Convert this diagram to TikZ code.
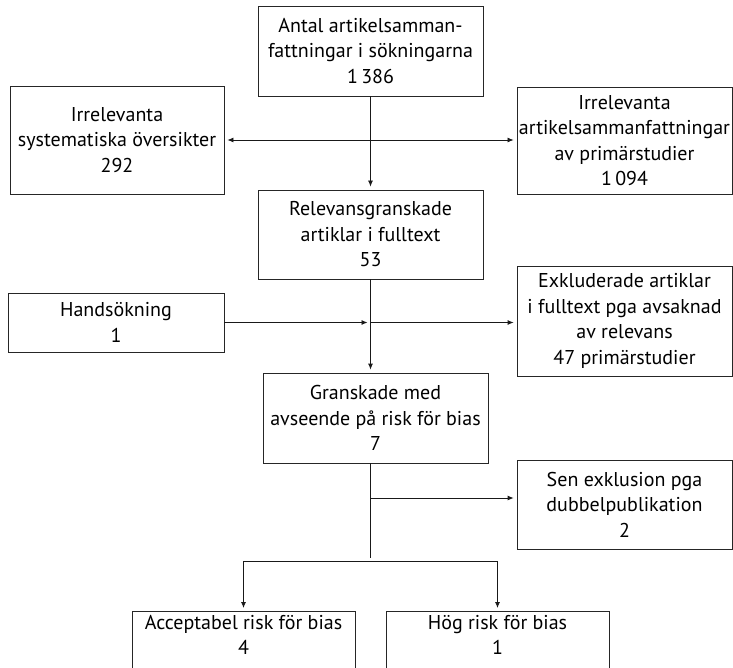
\documentclass[tikz,border=0pt]{standalone}
\usepackage{fontspec}
\setmainfont{PT Sans}
\usetikzlibrary{arrows.meta}

\tikzset{
  flowbox/.style={draw=black!85, line width=0.8pt, align=center, inner sep=2pt,
    font=\fontsize{20}{25.5}\selectfont},
  link/.style={draw=black!90, line width=0.8pt, shorten >=3pt},
  >={Latex[length=6pt,width=5pt]}
}

\begin{document}
\begin{tikzpicture}[x=1pt, y=-1pt]
  \clip (0,0) rectangle (733,668);

  % top row
  \node [flowbox, minimum width=225pt, minimum height=90pt] (antal) at (370.5,51)
    {Antal artikelsamman-\\fattningar i sökningarna\\1\,386};
  \node [flowbox, minimum width=214pt, minimum height=108pt] (irrsys) at (117,140)
    {Irrelevanta\\systematiska översikter\\292};
  \node [flowbox, minimum width=213pt, minimum height=107pt] (irrprim) at (624.5,140.5)
    {Irrelevanta\\artikelsammanfattningar\\av primärstudier\\1\,094};

  % middle
  \node [flowbox, minimum width=225pt, minimum height=89pt] (relev) at (370.5,234.5)
    {Relevansgranskade\\artiklar i fulltext\\53};
  \node [flowbox, minimum width=216pt, minimum height=59pt] (hand) at (116,322.5)
    {Handsökning\\1};
  \node [flowbox, minimum width=215pt, minimum height=110pt] (exkl) at (624.5,321)
    {Exkluderade artiklar\\i fulltext pga avsaknad\\av relevans\\47 primärstudier};
  \node [flowbox, minimum width=225pt, minimum height=90pt] (gransk) at (375.5,418)
    {Granskade med\\avseende på risk för bias\\7};
  \node [flowbox, minimum width=215pt, minimum height=89pt] (sen) at (624.5,504.5)
    {Sen exklusion pga\\dubbelpublikation\\2};

  % bottom row, cut by the page edge
  \node [flowbox, minimum width=223pt, minimum height=80pt, anchor=north] (accept) at (243.5,611)
    {Acceptabel risk för bias\\4\\\strut};
  \node [flowbox, minimum width=223pt, minimum height=80pt, anchor=north] (hog) at (497.5,611)
    {Hög risk för bias\\1\\\strut};

  \coordinate (sentap) at (370,498);
  \coordinate (fork) at (370,561);

  % connectors
  \draw [link, <->, shorten <=3pt] (irrsys.east) -- (irrsys.east -| irrprim.west);
  \draw [link, ->] (antal) -- (relev);
  \draw [link, ->] (hand.east) -- (hand.east -| relev.south);
  \draw [link, ->] (hand.east -| relev.south) -- (hand.east -| exkl.west);
  \draw [link, ->] (relev.south) -- (relev.south |- gransk.north);
  \draw [link] (gransk.south -| fork) -- (fork);
  \draw [link, ->] (sentap) -- (sentap -| sen.west);
  \draw [link, ->] (fork) -| (accept);
  \draw [link, ->] (fork) -| (hog);
\end{tikzpicture}
\end{document}
